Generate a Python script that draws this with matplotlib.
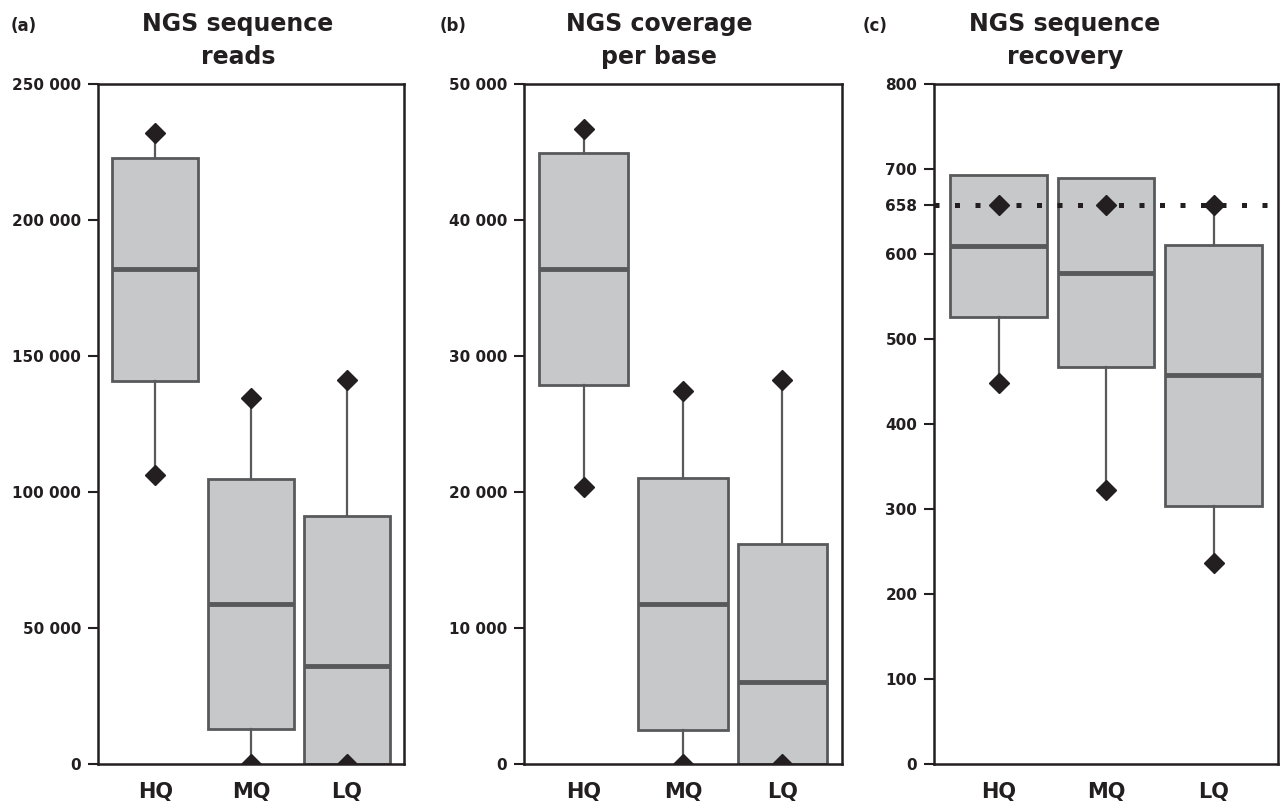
"""
三个面板的箱线图：NGS reads / coverage / recovery
"""
import matplotlib
matplotlib.use("Agg")
import matplotlib.pyplot as plt
from matplotlib.ticker import FuncFormatter

# 数据
groups = ["HQ", "MQ", "LQ"]

reads_min = [106200, 0, 0]
reads_q1 = [140800, 12800, 0]
reads_med = [181900, 58800, 36000]
reads_q3 = [222700, 104800, 91200]
reads_max = [231900, 134600, 141200]

cov_min = [20400, 0, 0]
cov_q1 = [27900, 2500, 0]
cov_med = [36400, 11800, 6050]
cov_q3 = [44950, 21050, 16200]
cov_max = [46700, 27400, 28200]

rec_min = [448, 322, 237]
rec_q1 = [526, 467, 304]
rec_med = [610, 578, 458]
rec_q3 = [693, 689, 611]
rec_max = [658, 658, 658]
rec_ref = 658

titles = ["NGS sequence\nreads", "NGS coverage\nper base", "NGS sequence\nrecovery"]
panel_tags = ["(a)", "(b)", "(c)"]

# 样式
ink = "#231f20"
box_fill = "#c7c8ca"
box_edge = "#58595b"

plt.rcParams["font.family"] = ["DejaVu Sans"]
plt.rcParams["font.weight"] = "bold"


def space_thousands(v, pos):
    return f"{int(round(v)):,}".replace(",", " ")


def draw_panel(ax, mins, q1, med, q3, maxs, ymax, yticks):
    positions = [1, 2, 3]
    stats = []
    for lo, a, m, b, hi in zip(mins, q1, med, q3, maxs):
        stats.append(dict(med=m, q1=a, q3=b,
                          whislo=min(lo, a), whishi=max(hi, b), fliers=[]))
    ax.bxp(stats, positions=positions, widths=0.9, patch_artist=True,
           showcaps=False, showfliers=False,
           boxprops=dict(facecolor=box_fill, edgecolor=box_edge, linewidth=2),
           medianprops=dict(color=box_edge, linewidth=3.5),
           whiskerprops=dict(color=box_edge, linewidth=1.6))
    for vals in (mins, maxs):
        ax.plot(positions, vals, "D", color=ink, markersize=10,
                linestyle="none", zorder=5)

    ax.set_xlim(0.4, 3.6)
    ax.set_ylim(0, ymax)
    ax.set_yticks(yticks)
    ax.yaxis.set_major_formatter(FuncFormatter(space_thousands))
    ax.set_xticks(positions)
    ax.set_xticklabels(groups)
    ax.tick_params(axis="y", direction="out", length=7, width=1.5, pad=5,
                   labelsize=11, colors=ink)
    ax.tick_params(axis="x", length=0, pad=13, labelsize=15, colors=ink)
    for s in ax.spines.values():
        s.set_linewidth(1.8)
        s.set_color(ink)


fig = plt.figure(figsize=(12.8, 8.07), dpi=100)

# 面板位置（像素换算成比例）
W, H = 1280, 807
bottom = 1 - 764 / H
height = (764 - 84) / H
axa = fig.add_axes([98 / W, bottom, 306 / W, height])
axb = fig.add_axes([524 / W, bottom, 318 / W, height])
axc = fig.add_axes([934 / W, bottom, 344 / W, height])

draw_panel(axa, reads_min, reads_q1, reads_med, reads_q3, reads_max,
           250000, range(0, 250001, 50000))
draw_panel(axb, cov_min, cov_q1, cov_med, cov_q3, cov_max,
           50000, range(0, 50001, 10000))
draw_panel(axc, rec_min, rec_q1, rec_med, rec_q3, rec_max,
           800, [0, 100, 200, 300, 400, 500, 600, rec_ref, 700, 800])
axc.axhline(rec_ref, color=ink, linewidth=3.6, linestyle=(0, (1, 3.1)),
            dash_capstyle="butt", zorder=4)

# 标题和面板标签
title_x = [238, 659, 1065]
tag_x = [11, 440, 863]
for tx, gx, t, g in zip(title_x, tag_x, titles, panel_tags):
    fig.text(tx / W, 1 - 12 / H, t, ha="center", va="top", fontsize=17,
             fontweight="bold", color=ink, linespacing=1.45)
    fig.text(gx / W, 1 - 31 / H, g, ha="left", va="baseline", fontsize=12,
             fontweight="bold", color=ink)

fig.savefig("out.png", dpi=100)
